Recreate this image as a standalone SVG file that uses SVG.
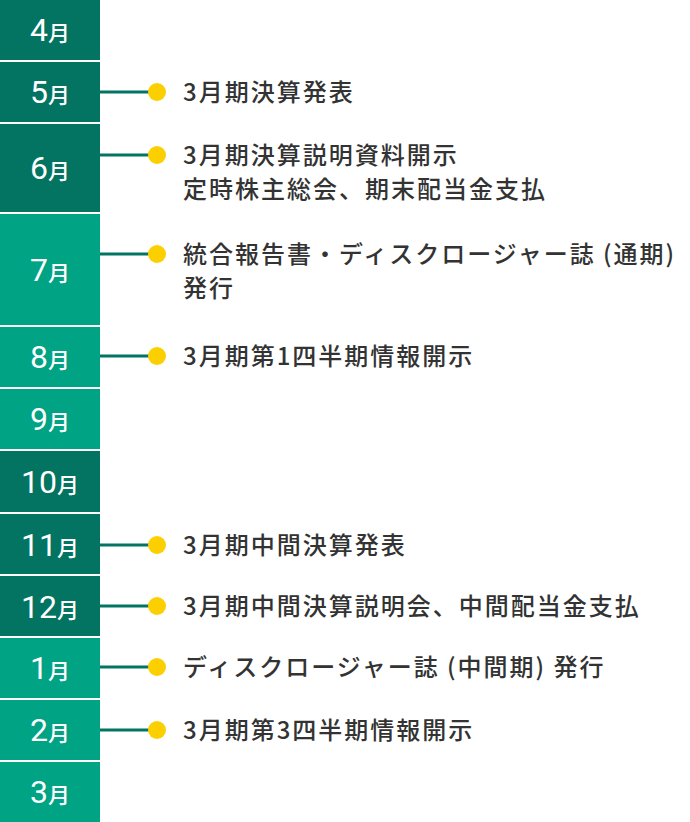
<svg xmlns="http://www.w3.org/2000/svg" width="690" height="822" viewBox="0 0 690 822">
<style>
.d{fill:#037461}.l{fill:#00a384}
.m{fill:#fff;font-family:Roboto,"Noto Sans CJK JP",sans-serif;text-anchor:middle;font-weight:500}
.m .n{font-size:32px;font-weight:400}.m .k{font-size:22px}
.t{fill:#333;font-family:"Noto Sans CJK JP",sans-serif;font-size:24px;letter-spacing:2px;font-weight:500}
.c line{stroke:#037461;stroke-width:3}.c circle{fill:#fcd000}
</style>
<rect width="690" height="822" fill="#fff"/>
<g id="m4"><rect class="d" x="0" y="0" width="100" height="60"/><text class="m" x="50" y="41"><tspan class="n">4</tspan><tspan class="k">月</tspan></text></g>
<g id="m5"><rect class="d" x="0" y="62" width="100" height="60"/><text class="m" x="50" y="103"><tspan class="n">5</tspan><tspan class="k">月</tspan></text></g>
<g id="m6"><rect class="d" x="0" y="124" width="100" height="88"/><text class="m" x="50" y="179"><tspan class="n">6</tspan><tspan class="k">月</tspan></text></g>
<g id="m7"><rect class="l" x="0" y="214" width="100" height="111"/><text class="m" x="50" y="281"><tspan class="n">7</tspan><tspan class="k">月</tspan></text></g>
<g id="m8"><rect class="l" x="0" y="327" width="100" height="60"/><text class="m" x="50" y="368"><tspan class="n">8</tspan><tspan class="k">月</tspan></text></g>
<g id="m9"><rect class="l" x="0" y="389" width="100" height="60"/><text class="m" x="50" y="430"><tspan class="n">9</tspan><tspan class="k">月</tspan></text></g>
<g id="m10"><rect class="d" x="0" y="451" width="100" height="61"/><text class="m" x="50" y="493"><tspan class="n">10</tspan><tspan class="k">月</tspan></text></g>
<g id="m11"><rect class="d" x="0" y="514" width="100" height="60"/><text class="m" x="50" y="556"><tspan class="n">11</tspan><tspan class="k">月</tspan></text></g>
<g id="m12"><rect class="d" x="0" y="576" width="100" height="60"/><text class="m" x="50" y="618"><tspan class="n">12</tspan><tspan class="k">月</tspan></text></g>
<g id="m1"><rect class="l" x="0" y="638" width="100" height="60"/><text class="m" x="50" y="679"><tspan class="n">1</tspan><tspan class="k">月</tspan></text></g>
<g id="m2"><rect class="l" x="0" y="700" width="100" height="60"/><text class="m" x="50" y="741"><tspan class="n">2</tspan><tspan class="k">月</tspan></text></g>
<g id="m3"><rect class="l" x="0" y="762" width="100" height="60"/><text class="m" x="50" y="803"><tspan class="n">3</tspan><tspan class="k">月</tspan></text></g>
<g class="c" id="connectors">
<line x1="100" y1="92" x2="155" y2="92"/><circle cx="157" cy="92" r="9"/>
<line x1="100" y1="155" x2="155" y2="155"/><circle cx="157" cy="155" r="9"/>
<line x1="100" y1="254" x2="155" y2="254"/><circle cx="157" cy="254" r="9"/>
<line x1="100" y1="356" x2="155" y2="356"/><circle cx="157" cy="356" r="9"/>
<line x1="100" y1="545" x2="155" y2="545"/><circle cx="157" cy="545" r="9"/>
<line x1="100" y1="606" x2="155" y2="606"/><circle cx="157" cy="606" r="9"/>
<line x1="100" y1="667" x2="155" y2="667"/><circle cx="157" cy="667" r="9"/>
<line x1="100" y1="730" x2="155" y2="730"/><circle cx="157" cy="730" r="9"/>
</g>
<g id="labels">
<text class="t" x="183" y="101">3月期決算発表</text>
<text class="t" x="183" y="164">3月期決算説明資料開示</text>
<text class="t" x="183" y="198">定時株主総会、期末配当金支払</text>
<text class="t" x="183" y="263">統合報告書・ディスクロージャー誌 (通期)</text>
<text class="t" x="183" y="297">発行</text>
<text class="t" x="183" y="365">3月期第1四半期情報開示</text>
<text class="t" x="183" y="554">3月期中間決算発表</text>
<text class="t" x="183" y="615">3月期中間決算説明会、中間配当金支払</text>
<text class="t" x="183" y="676">ディスクロージャー誌 (中間期) 発行</text>
<text class="t" x="183" y="739">3月期第3四半期情報開示</text>
</g>
</svg>
